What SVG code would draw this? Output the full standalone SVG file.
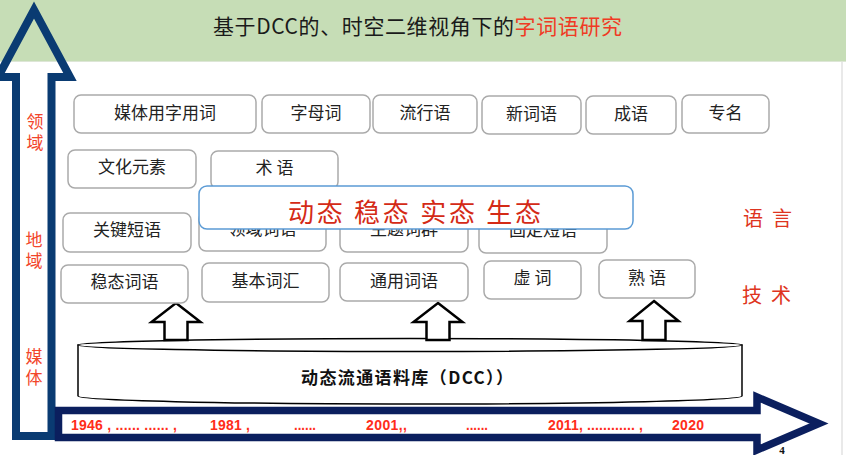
<svg xmlns="http://www.w3.org/2000/svg" width="846" height="455" viewBox="0 0 846 455">
<style>
.box{fill:#fff;stroke:#aaaaaa;stroke-width:1.5}
.bt{font-family:"Noto Sans CJK SC","Noto Sans",sans-serif;font-size:17px;fill:#222;text-anchor:middle}
.side{font-family:"Noto Sans CJK SC",sans-serif;font-size:17px;fill:#f2452a;writing-mode:tb;letter-spacing:4px}
.rside{font-family:"Noto Sans CJK SC",sans-serif;font-size:20px;fill:#de3420;text-anchor:middle}
.yr{font-family:"Liberation Sans",Arial,sans-serif;font-size:14px;font-weight:bold;fill:#ff2d1a}
.up{fill:#fff;stroke:#000;stroke-width:2.5;stroke-linejoin:miter}
</style>
<rect x="0" y="0" width="846" height="455" fill="#fff"/>
<rect x="0" y="0" width="846" height="61" fill="#c6ddb6"/>
<line x1="0" y1="61.5" x2="846" y2="61.5" stroke="#dde6d6" stroke-width="1"/>
<line x1="842" y1="62" x2="842" y2="455" stroke="#e2e2e2" stroke-width="1.5"/>

<g id="title">
<text x="417.5" y="34" font-family="'Noto Sans CJK SC','Noto Sans',sans-serif" font-size="21" fill="#1a1a1a" text-anchor="middle" textLength="409" lengthAdjust="spacing">基于DCC的、时空二维视角下的<tspan fill="#f03a24">字词语研究</tspan></text>
</g>

<g id="axes">
<path d="M34,10 L70,77 L51.5,77 L51.5,436 L16,436 L16,77 L-2,77 Z" fill="none" stroke="#0a3b72" stroke-width="8" stroke-linejoin="miter" stroke-miterlimit="10"/>
<path d="M58.5,410.5 L757,410.5 L757,397 L819,423.5 L757,450 L757,437.5 L58.5,437.5 Z" fill="none" stroke="#0b1f5e" stroke-width="7.5" stroke-linejoin="miter" stroke-miterlimit="10"/>
</g>

<g id="axis-labels">
<text class="side" x="35" y="113">领域</text>
<text class="side" x="34" y="231">地域</text>
<text class="side" x="34" y="348">媒体</text>
<text class="rside" x="753" y="226">语</text>
<text class="rside" x="782" y="226">言</text>
<text class="rside" x="752" y="303">技</text>
<text class="rside" x="781" y="303">术</text>
</g>

<g id="timeline">
<text class="yr" x="71" y="430" textLength="106" lengthAdjust="spacing">1946 , ...... ...... ,</text>
<text class="yr" x="210" y="430" textLength="40" lengthAdjust="spacing">1981 ,</text>
<text class="yr" x="294" y="430" textLength="22" lengthAdjust="spacingAndGlyphs">......</text>
<text class="yr" x="366" y="430" textLength="41" lengthAdjust="spacing">2001,,</text>
<text class="yr" x="466" y="430" textLength="22" lengthAdjust="spacingAndGlyphs">......</text>
<text class="yr" x="548" y="430" textLength="95" lengthAdjust="spacing">2011, ............ ,</text>
<text class="yr" x="672" y="430" textLength="32" lengthAdjust="spacing">2020</text>
<text x="782" y="454" font-family="'Liberation Serif',serif" font-size="11" font-weight="bold" fill="#111" text-anchor="middle">4</text>
</g>

<g id="dcc">
<path d="M78,345 L78,396 A332,8 0 0 0 742,396 L742,345 Z" fill="#fff" stroke="#000" stroke-width="1.5"/>
<ellipse cx="410" cy="345" rx="332" ry="6.5" fill="#fff" stroke="#000" stroke-width="1.5"/>
<text x="407" y="384" font-family="'Noto Sans CJK SC',sans-serif" font-size="17" font-weight="bold" fill="#111" text-anchor="middle" textLength="212" lengthAdjust="spacing">动态流通语料库（DCC））</text>
</g>

<g id="connectors">
<path class="up" d="M176,303 L200.5,322 L187.5,322 L187.5,340 L164.5,340 L164.5,322 L151.5,322 Z"/>
<path class="up" d="M438,303 L462.5,322 L449.5,322 L449.5,340 L426.5,340 L426.5,322 L413.5,322 Z"/>
<path class="up" d="M654,301 L678.5,321 L665.5,321 L665.5,340 L642.5,340 L642.5,321 L629.5,321 Z"/>
</g>

<g id="n-meiti"><rect class="box" x="74" y="95" width="182" height="38" rx="7"/><text class="bt" x="165" y="118.5">媒体用字用词</text></g>
<g id="n-zimuci"><rect class="box" x="262" y="95" width="108" height="38" rx="7"/><text class="bt" x="316" y="118.5">字母词</text></g>
<g id="n-liuxingyu"><rect class="box" x="373" y="95" width="104" height="38" rx="7"/><text class="bt" x="425" y="118.5">流行语</text></g>
<g id="n-xinciyu"><rect class="box" x="482" y="96" width="99" height="38" rx="7"/><text class="bt" x="531.5" y="119.5">新词语</text></g>
<g id="n-chengyu"><rect class="box" x="586" y="96" width="90" height="38" rx="7"/><text class="bt" x="631" y="119.5">成语</text></g>
<g id="n-zhuanming"><rect class="box" x="682" y="95" width="87" height="38" rx="7"/><text class="bt" x="725.5" y="118.5">专名</text></g>

<g id="n-wenhua"><rect class="box" x="68" y="150" width="128" height="38" rx="7"/><text class="bt" x="132" y="173">文化元素</text></g>
<g id="n-shuyu"><rect class="box" x="211" y="151" width="127" height="38" rx="7"/><text class="bt" x="274.5" y="174">术 语</text></g>

<g id="n-guanjian"><rect class="box" x="63" y="213" width="128" height="39" rx="7"/><text class="bt" x="127" y="235.5">关键短语</text></g>
<g id="n-lingyu"><rect class="box" x="199" y="212" width="127" height="39" rx="7"/><text class="bt" x="262.5" y="235">领域词语</text></g>
<g id="n-zhuti"><rect class="box" x="340" y="213" width="128" height="39" rx="7"/><text class="bt" x="404" y="235">主题词群</text></g>
<g id="n-guding"><rect class="box" x="479" y="214" width="128" height="39" rx="7"/><text class="bt" x="543" y="236">固定短语</text></g>

<g id="n-wentai"><rect class="box" x="61" y="265" width="127" height="38" rx="7"/><text class="bt" x="124.5" y="287.5">稳态词语</text></g>
<g id="n-jiben"><rect class="box" x="202" y="263" width="127" height="39" rx="7"/><text class="bt" x="265.5" y="286.5">基本词汇</text></g>
<g id="n-tongyong"><rect class="box" x="340" y="263" width="128" height="38" rx="7"/><text class="bt" x="404" y="286.5">通用词语</text></g>
<g id="n-xuci"><rect class="box" x="484" y="261" width="97" height="38" rx="7"/><text class="bt" x="532.5" y="283.5">虚 词</text></g>
<g id="n-shuyu2"><rect class="box" x="599" y="260" width="96" height="38" rx="7"/><text class="bt" x="647" y="283.5">熟 语</text></g>

<g id="n-states">
<rect x="199" y="186" width="434" height="43" rx="8" fill="#fff" stroke="#5b9bd5" stroke-width="1.5"/>
<text x="414.5" y="221.5" font-family="'Noto Sans CJK SC',sans-serif" font-size="26" fill="#d42a16" text-anchor="middle" textLength="253" lengthAdjust="spacing">动态 稳态 实态 生态</text>
</g>
</svg>
